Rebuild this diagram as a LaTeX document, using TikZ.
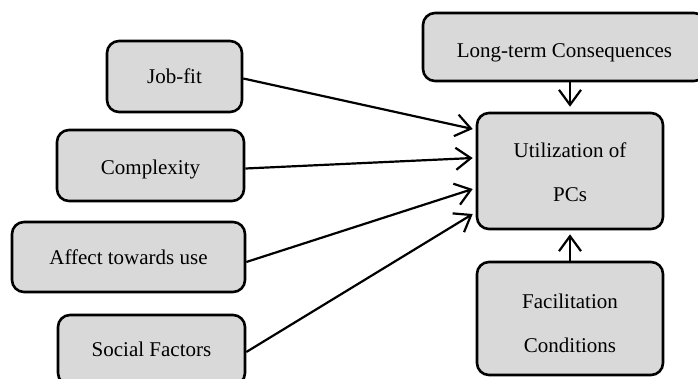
\documentclass[tikz,border=0pt]{standalone}
\usepackage{fontspec}
\setmainfont{Liberation Serif}
\usetikzlibrary{arrows.meta}
\definecolor{boxfill}{HTML}{D9D9D9}
\newcommand{\toppad}[1]{\rule{0pt}{#1}}
\begin{document}
\begin{tikzpicture}[x=1pt,y=-1pt,
  factor/.style={draw=black, fill=boxfill, line width=2.6pt, rounded corners=12pt,
    inner sep=0pt, align=center, text=black,
    font=\fontsize{21}{44}\selectfont},
  lowered/.style={text height=#1, text depth=5pt},
  link/.style={line width=2.2pt, -{Straight Barb[length=15pt,width=22pt,line width=2.2pt]}}]
  \clip (0,0) rectangle (698,378);

  % input factors
  \node[factor, lowered=19pt, minimum width=135, minimum height=71] (jobfit) at (174.5,76.5) {Job-fit};
  \node[factor, lowered=23pt, minimum width=187, minimum height=71] (complexity) at (150.5,165.5) {Complexity};
  \node[factor, lowered=19pt, minimum width=233, minimum height=70] (affect) at (128.5,257) {Affect towards use};
  \node[factor, lowered=17pt, minimum width=187, minimum height=70] (social) at (151.5,350) {Social Factors};

  % outcome and remaining influences
  \node[factor, lowered=25pt, minimum width=283, minimum height=68] (longterm) at (564.5,47) {Long-term Consequences};
  \node[factor, minimum width=186, minimum height=116] (util) at (570,171) {\toppad{18pt}Utilization of\\PCs};
  \node[factor, minimum width=186, minimum height=113] (facil) at (570,318.5) {\toppad{25pt}Facilitation\\Conditions};

  % influences on utilization
  \draw[link] ([yshift=-2pt]jobfit.east) -- ([xshift=-3pt,yshift=42pt]util.west);
  \draw[link] ([yshift=-3pt]complexity.east) -- ([xshift=-3pt,yshift=13pt]util.west);
  \draw[link] ([yshift=-5pt]affect.east) -- ([xshift=-3pt,yshift=-18pt]util.west);
  \draw[link] ([yshift=-2pt]social.east) -- ([xshift=-3pt,yshift=-43pt]util.west);
  \draw[link] (util.north |- longterm.south) -- ([yshift=5pt]util.north);
  \draw[link] (facil.north) -- ([yshift=-4pt]util.south);
\end{tikzpicture}
\end{document}
